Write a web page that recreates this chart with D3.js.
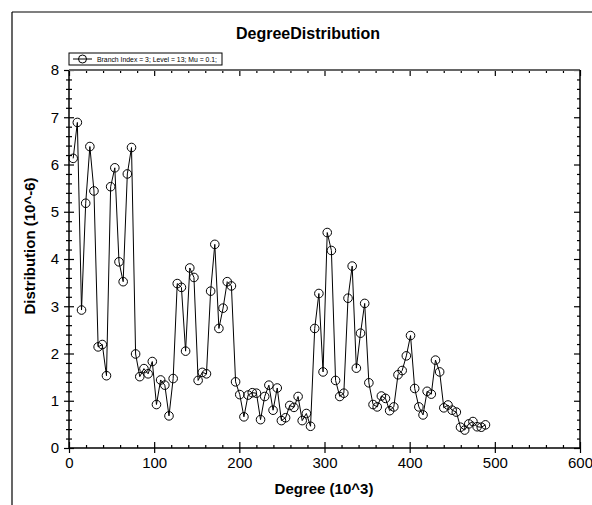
<!DOCTYPE html>
<html><head><meta charset="utf-8">
<script src="https://cdn.jsdelivr.net/npm/d3@7"></script>
<style>html,body{margin:0;background:#fff;overflow:hidden}svg{display:block}text{font-family:"Liberation Sans",Arial,sans-serif}</style>
</head><body>
<script>
const title = "DegreeDistribution";
const legendLabel = "Branch Index = 3; Level = 13; Mu = 0.1;";
const xLabel = "Degree (10^3)";
const yLabel = "Distribution (10^-6)";
const xTicks = [0,100,200,300,400,500,600];
const yTicks = [0,1,2,3,4,5,6,7,8];
const degree = [4.9,9.8,14.7,19.6,24.5,29.3,34.2,39.1,44.0,48.9,53.8,58.7,63.6,68.5,73.4,78.2,83.1,88.0,92.9,97.8,
102.7,107.6,112.5,117.4,122.3,127.1,132.0,136.9,141.8,146.7,151.6,156.5,161.4,166.3,171.2,176.0,180.9,185.8,190.7,195.6,
200.5,205.4,210.3,215.2,220.1,224.9,229.8,234.7,239.6,244.5,249.4,254.3,259.2,264.1,269.0,273.8,278.7,283.6,288.5,293.4,
298.3,303.2,308.1,313.0,317.9,322.7,327.6,332.5,337.4,342.3,347.2,352.1,357.0,361.9,366.8,371.6,376.5,381.4,386.3,391.2,
396.1,401.0,405.9,410.8,415.7,420.5,425.4,430.3,435.2,440.1,445.0,449.9,454.8,459.7,464.6,469.4,474.3,479.2,484.1,489.0];
const distribution = [6.13,6.89,2.92,5.18,6.38,5.44,2.14,2.19,1.53,5.53,5.93,3.94,3.52,5.80,6.36,1.99,1.51,1.68,1.57,1.83,
0.92,1.44,1.33,0.68,1.47,3.48,3.40,2.05,3.81,3.61,1.43,1.60,1.57,3.32,4.31,2.53,2.96,3.52,3.43,1.40,
1.13,0.66,1.12,1.17,1.16,0.60,1.09,1.33,0.80,1.27,0.58,0.64,0.90,0.86,1.09,0.58,0.73,0.46,2.53,3.27,
1.61,4.56,4.18,1.43,1.09,1.16,3.17,3.85,1.69,2.43,3.06,1.38,0.92,0.87,1.10,1.05,0.79,0.87,1.55,1.64,
1.95,2.38,1.26,0.87,0.70,1.20,1.14,1.86,1.61,0.85,0.91,0.80,0.76,0.44,0.38,0.51,0.56,0.45,0.44,0.49];

const W = 592, H = 505;
const L = 69, R = 580, T = 70, B = 448;
const svg = d3.select("body").append("svg").attr("width", W).attr("height", H).style("overflow", "hidden");

// outer frame (top and left edges visible)
svg.append("line").attr("x1", 12).attr("x2", W).attr("y1", 12).attr("y2", 12).attr("stroke", "#000").attr("stroke-width", 1.2);
svg.append("line").attr("x1", 12).attr("x2", 12).attr("y1", 12).attr("y2", H).attr("stroke", "#000").attr("stroke-width", 1.2);

const x = d3.scaleLinear().domain([0, 600]).range([L, R]);
const y = d3.scaleLinear().domain([0, 8]).range([B, T]);

const minorX = d3.range(0, 601, 20).filter(v => v % 100 !== 0);
const minorY = d3.range(0, 8.01, 0.2).map(v => +v.toFixed(1)).filter(v => Math.abs(v - Math.round(v)) > 1e-6);

function styleAxis(g) {
  g.selectAll(".domain").remove();
  g.selectAll("line").attr("stroke", "#000").attr("stroke-width", 1.2);
}

// bottom axis: major crossing
const gb = svg.append("g").attr("transform", `translate(0,${B})`);
gb.call(d3.axisBottom(x).tickValues(xTicks).tickSize(5).tickFormat(d3.format("d")));
gb.selectAll(".tick line").attr("y1", -6);
gb.selectAll("text").attr("font-size", 15).attr("dy", "0.55em").attr("y", 12).attr("fill", "#000");
styleAxis(gb);
svg.append("g").attr("transform", `translate(0,${B})`)
  .call(d3.axisBottom(x).tickValues(minorX).tickSize(-3).tickFormat(""))
  .call(styleAxis);

// top axis
svg.append("g").attr("transform", `translate(0,${T})`)
  .call(d3.axisTop(x).tickValues(xTicks).tickSize(-6).tickFormat(""))
  .call(styleAxis);
svg.append("g").attr("transform", `translate(0,${T})`)
  .call(d3.axisTop(x).tickValues(minorX).tickSize(-3).tickFormat(""))
  .call(styleAxis);

// left axis
const gl = svg.append("g").attr("transform", `translate(${L},0)`);
gl.call(d3.axisLeft(y).tickValues(yTicks).tickSize(5).tickFormat(d3.format("d")));
gl.selectAll(".tick line").attr("x1", 5);
gl.selectAll("text").attr("font-size", 15).attr("x", -10).attr("fill", "#000");
styleAxis(gl);
const glm = svg.append("g").attr("transform", `translate(${L},0)`)
  .call(d3.axisLeft(y).tickValues(minorY).tickSize(3).tickFormat(""));
glm.selectAll(".tick line").attr("x1", 3);
styleAxis(glm);

// right axis
svg.append("g").attr("transform", `translate(${R},0)`)
  .call(d3.axisRight(y).tickValues(yTicks).tickSize(-6).tickFormat(""))
  .call(styleAxis);
svg.append("g").attr("transform", `translate(${R},0)`)
  .call(d3.axisRight(y).tickValues(minorY).tickSize(-3).tickFormat(""))
  .call(styleAxis);

// frame lines
svg.append("line").attr("x1", L).attr("x2", R).attr("y1", B).attr("y2", B).attr("stroke", "#000").attr("stroke-width", 1.5);
svg.append("line").attr("x1", L).attr("x2", L).attr("y1", T).attr("y2", B).attr("stroke", "#000").attr("stroke-width", 1.5);
svg.append("line").attr("x1", L).attr("x2", R).attr("y1", T).attr("y2", T).attr("stroke", "#666").attr("stroke-width", 2);
svg.append("line").attr("x1", R).attr("x2", R).attr("y1", T).attr("y2", B).attr("stroke", "#000").attr("stroke-width", 1.5);

// data
const pts = degree.map((d, i) => [d, distribution[i]]);
svg.append("path").datum(pts)
  .attr("d", d3.line().x(d => x(d[0])).y(d => y(d[1])))
  .attr("fill", "none").attr("stroke", "#000").attr("stroke-width", 1);
svg.append("g").selectAll("circle").data(pts).join("circle")
  .attr("cx", d => x(d[0])).attr("cy", d => y(d[1])).attr("r", 4.3)
  .attr("fill", "none").attr("stroke", "#000").attr("stroke-width", 1);

// title
svg.append("text").attr("x", 308).attr("y", 39).attr("text-anchor", "middle")
  .attr("font-size", 16).attr("font-weight", "bold").text(title);

// axis labels
svg.append("text").attr("x", 324).attr("y", 494).attr("text-anchor", "middle")
  .attr("font-size", 15).attr("font-weight", "bold").text(xLabel);
svg.append("text").attr("transform", "translate(35,246) rotate(-90)").attr("text-anchor", "middle")
  .attr("font-size", 15).attr("font-weight", "bold").text(yLabel);

// legend
const lg = svg.append("g");
lg.append("rect").attr("x", 69).attr("y", 53).attr("width", 153).attr("height", 12)
  .attr("fill", "#fff").attr("stroke", "#000").attr("stroke-width", 1);
lg.append("line").attr("x1", 73).attr("x2", 92).attr("y1", 59).attr("y2", 59).attr("stroke", "#000");
lg.append("circle").attr("cx", 82.5).attr("cy", 59).attr("r", 4).attr("fill", "none").attr("stroke", "#000");
lg.append("text").attr("x", 97).attr("y", 62).attr("font-size", 7.5)
  .attr("textLength", 120).attr("lengthAdjust", "spacingAndGlyphs").text(legendLabel);
</script>
</body></html>
